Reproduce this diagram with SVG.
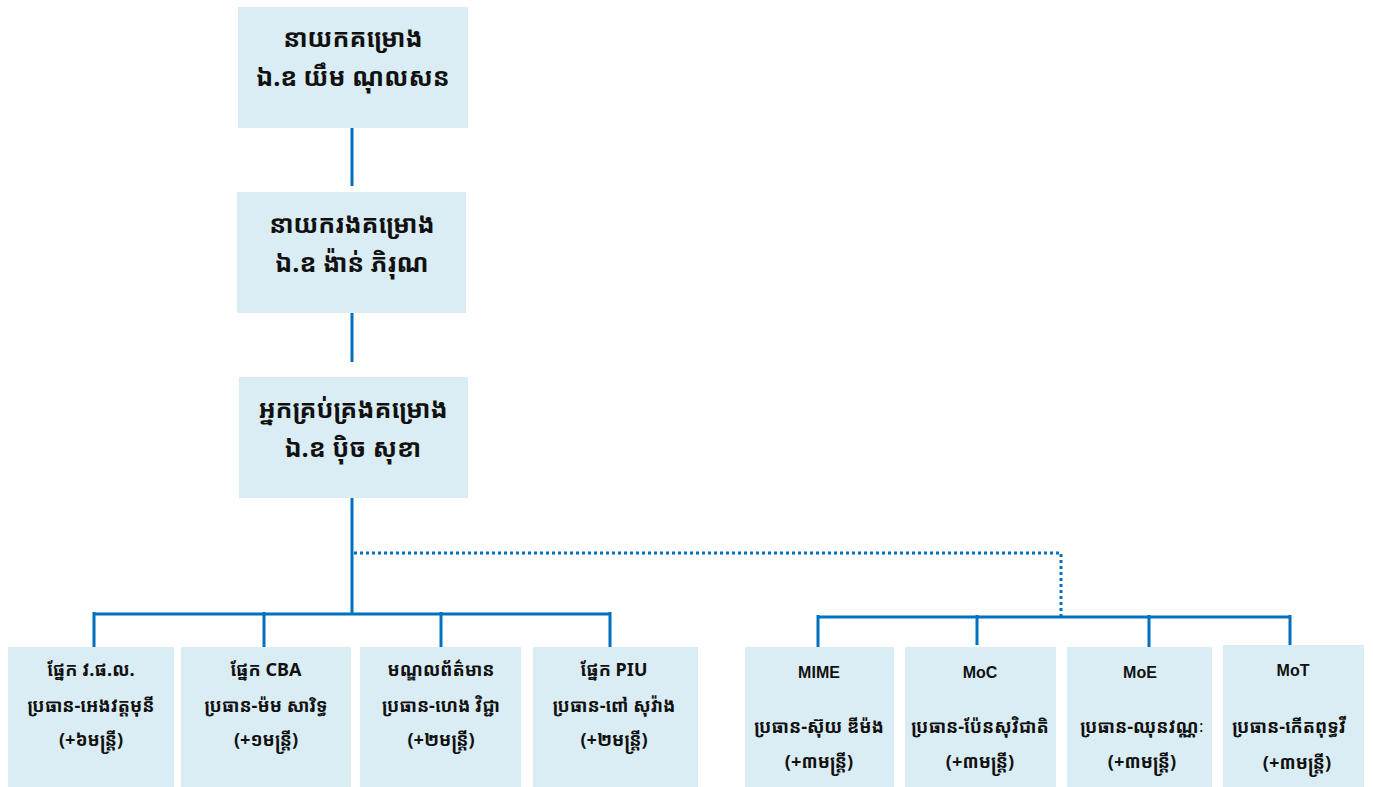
<svg xmlns="http://www.w3.org/2000/svg" width="1373" height="787" viewBox="0 0 1373 787">
<style>
.box{fill:#daedf4}
.ln{stroke:#0070c0;stroke-width:3;fill:none}
.dot{stroke:#0070c0;stroke-width:3;fill:none;stroke-dasharray:3 3}
.t1{font-family:"Noto Sans Khmer","Khmer OS System","Khmer OS","Liberation Sans",sans-serif;font-weight:bold;font-size:25px;fill:#111;text-anchor:middle}
.t2{font-family:"Noto Sans Khmer","Khmer OS System","Khmer OS","Liberation Sans",sans-serif;font-weight:bold;font-size:18px;fill:#111;text-anchor:middle}
.t3{font-family:"Liberation Sans",Arial,sans-serif;font-weight:bold;font-size:16px;fill:#111;text-anchor:middle}
</style>
<rect width="1373" height="787" fill="#ffffff"/>
<g id="connectors">
<path class="ln" d="M352 128V186M352 313V362M352 498V614M94 614H610M94 612V647M264 612V647M441 612V647M610 612V647"/>
<path class="ln" d="M818 617H1290M818 615V647M977 615V645M1149 615V647M1290 615V647"/>
<path class="dot" d="M354 553H1061V617"/>
</g>
<g id="n1"><rect class="box" x="238" y="7" width="230" height="121"/>
<text class="t1" x="353" y="47">នាយកគម្រោង</text><text class="t1" x="353" y="86">ឯ.ឧ យឹម ណុលសន</text></g>
<g id="n2"><rect class="box" x="237" y="192" width="229" height="121"/>
<text class="t1" x="352" y="233">នាយករងគម្រោង</text><text class="t1" x="352" y="272">ឯ.ឧ ង៉ាន់ ភិរុណ</text></g>
<g id="n3"><rect class="box" x="239" y="377" width="229" height="121"/>
<text class="t1" x="353" y="418">អ្នកគ្រប់គ្រងគម្រោង</text><text class="t1" x="353" y="457">ឯ.ឧ ប៉ិច សុខា</text></g>
<g id="b1"><rect class="box" x="8" y="647" width="166" height="140"/>
<text class="t2" x="91" y="676">ផ្នែក វ.ផ.ល.</text><text class="t2" x="91" y="712">ប្រធាន-អេងវត្តមុនី</text><text class="t2" x="91" y="746">(+៦មន្ត្រី)</text></g>
<g id="b2"><rect class="box" x="181" y="647" width="170" height="140"/>
<text class="t2" x="266" y="676">ផ្នែក CBA</text><text class="t2" x="266" y="712">ប្រធាន-ម៉ម សារិទ្ធ</text><text class="t2" x="266" y="746">(+១មន្ត្រី)</text></g>
<g id="b3"><rect class="box" x="360" y="647" width="161" height="140"/>
<text class="t2" x="441" y="676">មណ្ឌលព័ត៌មាន</text><text class="t2" x="441" y="712">ប្រធាន-ហេង វិជ្ជា</text><text class="t2" x="441" y="746">(+២មន្ត្រី)</text></g>
<g id="b4"><rect class="box" x="533" y="647" width="165" height="140"/>
<text class="t2" x="614" y="676">ផ្នែក PIU</text><text class="t2" x="614" y="712">ប្រធាន-ពៅ សុវ៉ាង</text><text class="t2" x="614" y="746">(+២មន្ត្រី)</text></g>
<g id="m1"><rect class="box" x="745" y="647" width="149" height="140"/>
<text class="t3" x="819" y="678">MIME</text><text class="t2" x="819" y="733">ប្រធាន-ស៊ុយ ឌីម៉ង</text><text class="t2" x="819" y="768">(+៣មន្ត្រី)</text></g>
<g id="m2"><rect class="box" x="905" y="647" width="151" height="140"/>
<text class="t3" x="980" y="678">MoC</text><text class="t2" x="980" y="733">ប្រធាន-ប៉ែនសុវិជាតិ</text><text class="t2" x="980" y="768">(+៣មន្ត្រី)</text></g>
<g id="m3"><rect class="box" x="1067" y="647" width="145" height="140"/>
<text class="t3" x="1140" y="678">MoE</text><text class="t2" x="1142" y="733">ប្រធាន-ឈុនវណ្ណៈ</text><text class="t2" x="1142" y="768">(+៣មន្ត្រី)</text></g>
<g id="m4"><rect class="box" x="1223" y="645" width="141" height="142"/>
<text class="t3" x="1293" y="676">MoT</text><text class="t2" x="1289" y="733">ប្រធាន-កើតពុទ្ធវី</text><text class="t2" x="1297" y="769">(+៣មន្ត្រី)</text></g>
</svg>
